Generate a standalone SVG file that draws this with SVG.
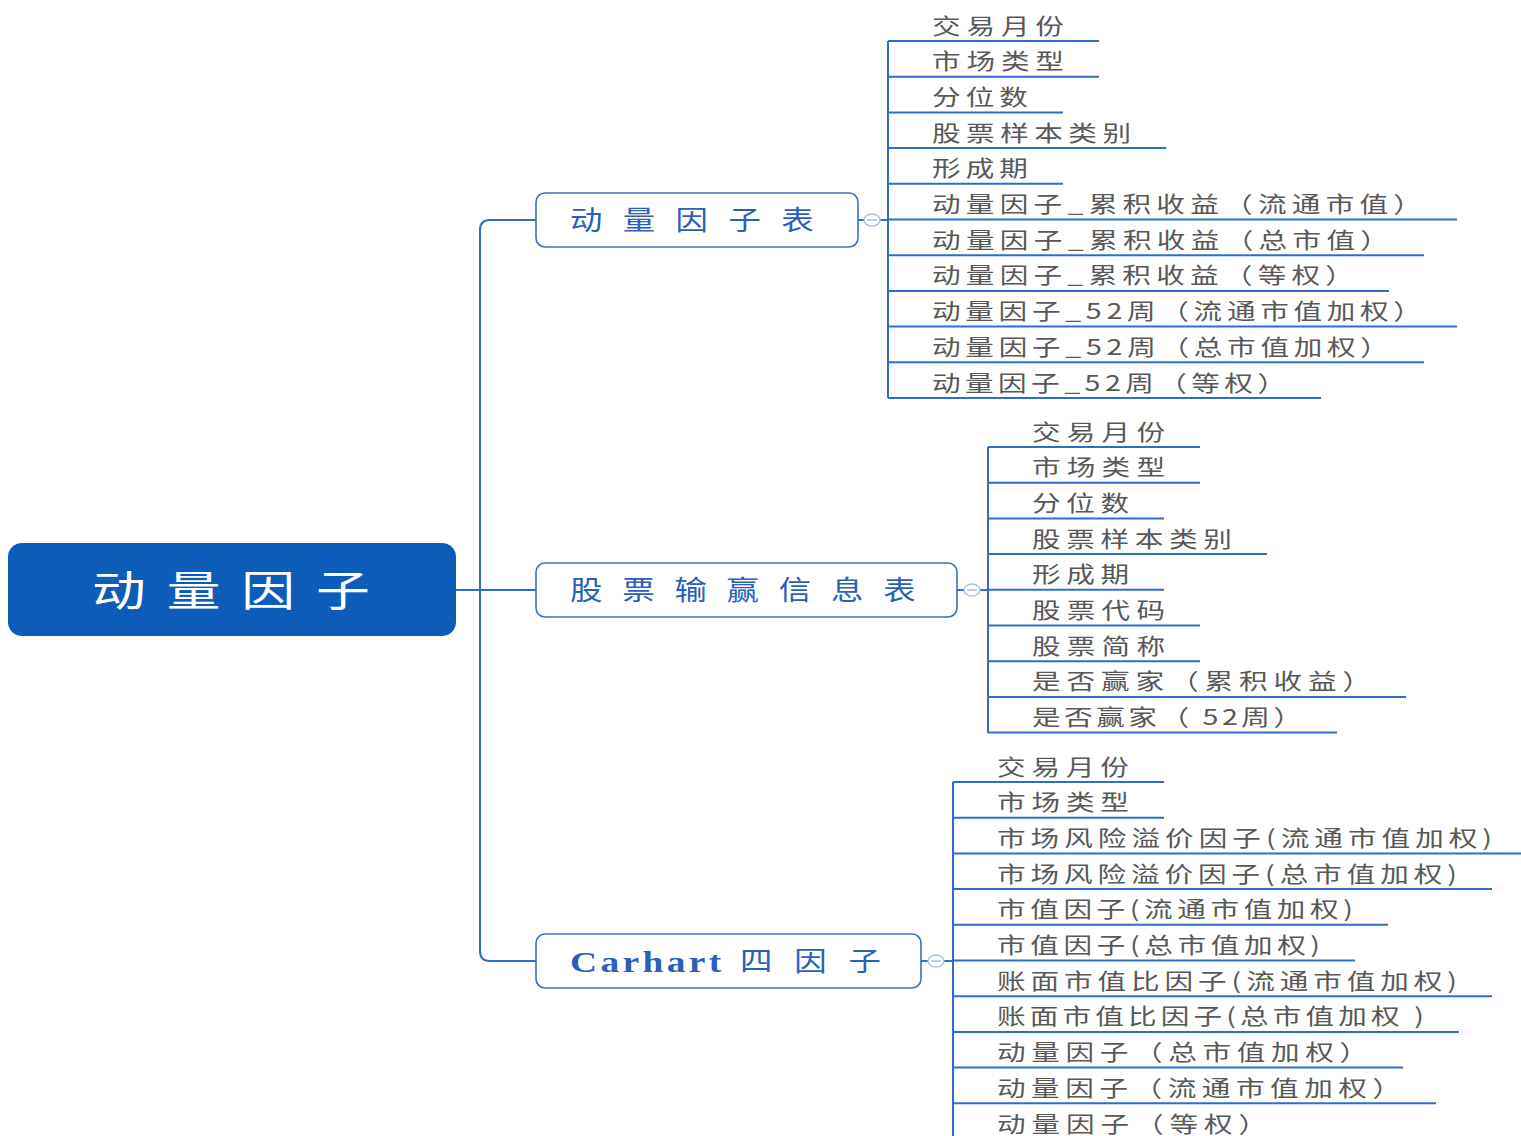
<svg xmlns="http://www.w3.org/2000/svg" width="1521" height="1136" viewBox="0 0 1521 1136">
<style>
.conn{fill:none;stroke:#2f6ec8;stroke-width:2}
.ul{fill:none;stroke:#2f6ec8;stroke-width:2}
.branch rect{fill:#fff;stroke:#3b6fc0;stroke-width:1.6}
.btxt{font-family:"Noto Sans CJK SC","Liberation Sans",sans-serif;font-size:27px;fill:#2b5fb8}
.leaf{font-family:"Noto Sans CJK SC","Liberation Sans",sans-serif;font-size:22px;fill:#585858}
.tog ellipse{fill:#fff;stroke:#a8bfe8;stroke-width:1.5}
.tog line{stroke:#a8bfe8;stroke-width:1.5}
</style>
<rect width="1521" height="1136" fill="#fff"/>
<g id="connectors">
<path class="conn" d="M456 590H536M536 220H490Q480 220 480 230V951Q480 961 490 961H536"/>
<path class="conn" d="M858 220H888M888 41V398"/>
<path class="conn" d="M957 590H988M988 447V733"/>
<path class="conn" d="M921 961H953M953 782V1136"/>
</g>
<g id="root">
<rect x="8" y="543" width="448" height="93" rx="14" fill="#0d5cba"/>
<text transform="translate(92 606) scale(1.28 1)" textLength="217" font-family="Noto Sans CJK SC, Liberation Sans, sans-serif" font-size="42" fill="#fff">动量因子</text>
</g>
<g id="n1" class="branch">
<rect x="536" y="193" width="322" height="54" rx="9"/>
<text class="btxt" transform="translate(570 230) scale(1.2 1)" textLength="203">动量因子表</text>
<g class="tog"><ellipse cx="872" cy="220" rx="8" ry="6"/><line x1="867" y1="220" x2="877" y2="220"/></g>
</g>
<g id="n2" class="branch">
<rect x="536" y="563" width="421" height="54" rx="9"/>
<text class="btxt" transform="translate(570 600) scale(1.2 1)" textLength="288">股票输赢信息表</text>
<g class="tog"><ellipse cx="972" cy="590" rx="8" ry="6"/><line x1="967" y1="590" x2="977" y2="590"/></g>
</g>
<g id="n3" class="branch">
<rect x="536" y="934" width="385" height="54" rx="9"/>
<text transform="translate(570 972) scale(1.25 1)" font-family="Liberation Serif, serif" font-weight="bold" font-size="30" fill="#2b5fb8" textLength="121">Carhart</text>
<text class="btxt" transform="translate(740 971) scale(1.2 1)" textLength="117.5">四因子</text>
<g class="tog"><ellipse cx="936" cy="961" rx="8" ry="6"/><line x1="931" y1="961" x2="941" y2="961"/></g>
</g>
<g id="leaves1">
<g id="l1-1"><text class="leaf" transform="translate(932 33.5) scale(1.3 1)" textLength="101.5">交易月份</text><path class="ul" d="M888 41H1099"/></g>
<g id="l1-2"><text class="leaf" transform="translate(932 69.2) scale(1.3 1)" textLength="101.5">市场类型</text><path class="ul" d="M888 76.7H1099"/></g>
<g id="l1-3"><text class="leaf" transform="translate(932 104.9) scale(1.3 1)" textLength="73.8">分位数</text><path class="ul" d="M888 112.4H1063"/></g>
<g id="l1-4"><text class="leaf" transform="translate(932 140.6) scale(1.3 1)" textLength="153.1">股票样本类别</text><path class="ul" d="M888 148.1H1166"/></g>
<g id="l1-5"><text class="leaf" transform="translate(932 176.3) scale(1.3 1)" textLength="73.8">形成期</text><path class="ul" d="M888 183.8H1063"/></g>
<g id="l1-6"><text class="leaf" transform="translate(932 212) scale(1.3 1)" textLength="376.9">动量因子_累积收益（流通市值）</text><path class="ul" d="M888 219.5H1457"/></g>
<g id="l1-7"><text class="leaf" transform="translate(932 247.7) scale(1.3 1)" textLength="351.5">动量因子_累积收益（总市值）</text><path class="ul" d="M888 255.2H1424"/></g>
<g id="l1-8"><text class="leaf" transform="translate(932 283.4) scale(1.3 1)" textLength="324.6">动量因子_累积收益（等权）</text><path class="ul" d="M888 290.9H1389"/></g>
<g id="l1-9"><text class="leaf" transform="translate(932 319.1) scale(1.3 1)" textLength="376.9">动量因子_52周（流通市值加权）</text><path class="ul" d="M888 326.6H1457"/></g>
<g id="l1-10"><text class="leaf" transform="translate(932 354.8) scale(1.3 1)" textLength="351.5">动量因子_52周（总市值加权）</text><path class="ul" d="M888 362.3H1424"/></g>
<g id="l1-11"><text class="leaf" transform="translate(932 390.5) scale(1.3 1)" textLength="272.3">动量因子_52周（等权）</text><path class="ul" d="M888 398H1321"/></g>
</g>
<g id="leaves2">
<g id="l2-1"><text class="leaf" transform="translate(1032 439.5) scale(1.3 1)" textLength="102.3">交易月份</text><path class="ul" d="M988 447H1200"/></g>
<g id="l2-2"><text class="leaf" transform="translate(1032 475.2) scale(1.3 1)" textLength="102.3">市场类型</text><path class="ul" d="M988 482.7H1200"/></g>
<g id="l2-3"><text class="leaf" transform="translate(1032 510.9) scale(1.3 1)" textLength="74.6">分位数</text><path class="ul" d="M988 518.4H1164"/></g>
<g id="l2-4"><text class="leaf" transform="translate(1032 546.6) scale(1.3 1)" textLength="153.8">股票样本类别</text><path class="ul" d="M988 554.1H1267"/></g>
<g id="l2-5"><text class="leaf" transform="translate(1032 582.3) scale(1.3 1)" textLength="74.6">形成期</text><path class="ul" d="M988 589.8H1164"/></g>
<g id="l2-6"><text class="leaf" transform="translate(1032 618) scale(1.3 1)" textLength="102.3">股票代码</text><path class="ul" d="M988 625.5H1200"/></g>
<g id="l2-7"><text class="leaf" transform="translate(1032 653.7) scale(1.3 1)" textLength="102.3">股票简称</text><path class="ul" d="M988 661.2H1200"/></g>
<g id="l2-8"><text class="leaf" transform="translate(1032 689.4) scale(1.3 1)" textLength="260.8">是否赢家（累积收益）</text><path class="ul" d="M988 696.9H1406"/></g>
<g id="l2-9"><text class="leaf" transform="translate(1032 725.1) scale(1.3 1)" textLength="207.7">是否赢家（ 52周）</text><path class="ul" d="M988 732.6H1337"/></g>
</g>
<g id="leaves3">
<g id="l3-1"><text class="leaf" transform="translate(997 774.5) scale(1.3 1)" textLength="101.5">交易月份</text><path class="ul" d="M953 782H1164"/></g>
<g id="l3-2"><text class="leaf" transform="translate(997 810.2) scale(1.3 1)" textLength="101.5">市场类型</text><path class="ul" d="M953 817.7H1164"/></g>
<g id="l3-3"><text class="leaf" transform="translate(997 845.9) scale(1.3 1)" textLength="380.8">市场风险溢价因子(流通市值加权)</text><path class="ul" d="M953 853.4H1521"/></g>
<g id="l3-4"><text class="leaf" transform="translate(997 881.6) scale(1.3 1)" textLength="353.8">市场风险溢价因子(总市值加权)</text><path class="ul" d="M953 889.1H1492"/></g>
<g id="l3-5"><text class="leaf" transform="translate(997 917.3) scale(1.3 1)" textLength="273.8">市值因子(流通市值加权)</text><path class="ul" d="M953 924.8H1388"/></g>
<g id="l3-6"><text class="leaf" transform="translate(997 953) scale(1.3 1)" textLength="248.5">市值因子(总市值加权)</text><path class="ul" d="M953 960.5H1355"/></g>
<g id="l3-7"><text class="leaf" transform="translate(997 988.7) scale(1.3 1)" textLength="353.8">账面市值比因子(流通市值加权)</text><path class="ul" d="M953 996.2H1492"/></g>
<g id="l3-8"><text class="leaf" transform="translate(997 1024.4) scale(1.3 1)" textLength="328.5">账面市值比因子(总市值加权 )</text><path class="ul" d="M953 1031.9H1459"/></g>
<g id="l3-9"><text class="leaf" transform="translate(997 1060.1) scale(1.3 1)" textLength="285.4">动量因子（总市值加权）</text><path class="ul" d="M953 1067.6H1403"/></g>
<g id="l3-10"><text class="leaf" transform="translate(997 1095.8) scale(1.3 1)" textLength="310.8">动量因子（流通市值加权）</text><path class="ul" d="M953 1103.3H1436"/></g>
<g id="l3-11"><text class="leaf" transform="translate(997 1131.5) scale(1.3 1)" textLength="207.7">动量因子（等权）</text></g>
</g>
</svg>
